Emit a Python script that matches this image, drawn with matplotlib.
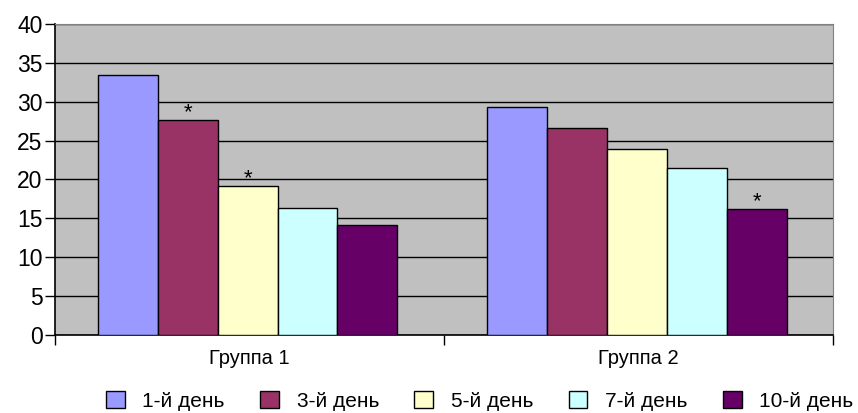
import numpy as np
import matplotlib.pyplot as plt

plt.rcParams['font.family'] = ['Liberation Sans', 'DejaVu Sans']

# Data
groups = ["Группа 1", "Группа 2"]
days = ["1-й день", "3-й день", "5-й день", "7-й день", "10-й день"]
values = [
    [33.4, 29.3],   # 1-й день
    [27.6, 26.6],   # 3-й день
    [19.1, 23.9],   # 5-й день
    [16.3, 21.5],   # 7-й день
    [14.2, 16.2],   # 10-й день
]
# significance marks (day index, group index)
stars = [(1, 0), (2, 0), (4, 1)]

COLORS = ["#9999FF", "#993366", "#FFFFCC", "#CCFFFF", "#660066"]

fig = plt.figure(figsize=(8.58, 4.13), dpi=100)
ax = fig.add_axes([0.0641, 0.189, 0.907, 0.753])
ax.set_facecolor("#C0C0C0")

x = np.arange(len(groups))
w = 0.154
offsets = (np.arange(len(days)) - 2) * w - 0.005

for i, d in enumerate(days):
    ax.bar(x + offsets[i], values[i], width=w, color=COLORS[i],
           edgecolor="black", linewidth=1.0, label=d, zorder=3)

for di, gi in stars:
    ax.annotate("*", (x[gi] + offsets[di], values[di][gi]),
                xytext=(0, -2), textcoords="offset points",
                ha="center", va="bottom", fontsize=16, zorder=4)

ax.set_xlim(-0.5, 1.5)
ax.set_ylim(0, 40)
ax.set_yticks(range(0, 41, 5))
ax.yaxis.grid(True, color="black", linewidth=1.0, zorder=1)
ax.set_axisbelow(True)

# category ticks between groups, labels centered
ax.set_xticks([-0.5, 0.5, 1.5])
ax.set_xticklabels([])
ax.set_xticks(x, minor=True)
ax.set_xticklabels(groups, minor=True, fontsize=14.5)
ax.tick_params(axis="x", which="minor", length=0, pad=10)
ax.tick_params(axis="x", which="major", length=7, width=1, direction="out")
ax.tick_params(axis="y", length=7, width=1, labelsize=16.5, pad=2)

for sp in ["top", "right"]:
    ax.spines[sp].set_color("#808080")
for sp in ["left", "bottom"]:
    ax.spines[sp].set_color("black")
    ax.spines[sp].set_linewidth(1.2)

fig.legend(loc="lower left", bbox_to_anchor=(0.121, 0.0), ncol=5,
           frameon=False, fontsize=15, handlelength=0.9, handleheight=0.9,
           handletextpad=0.85, columnspacing=1.7, borderpad=0.1,
           borderaxespad=0)

fig.savefig("out.png", dpi=100, facecolor="white")
